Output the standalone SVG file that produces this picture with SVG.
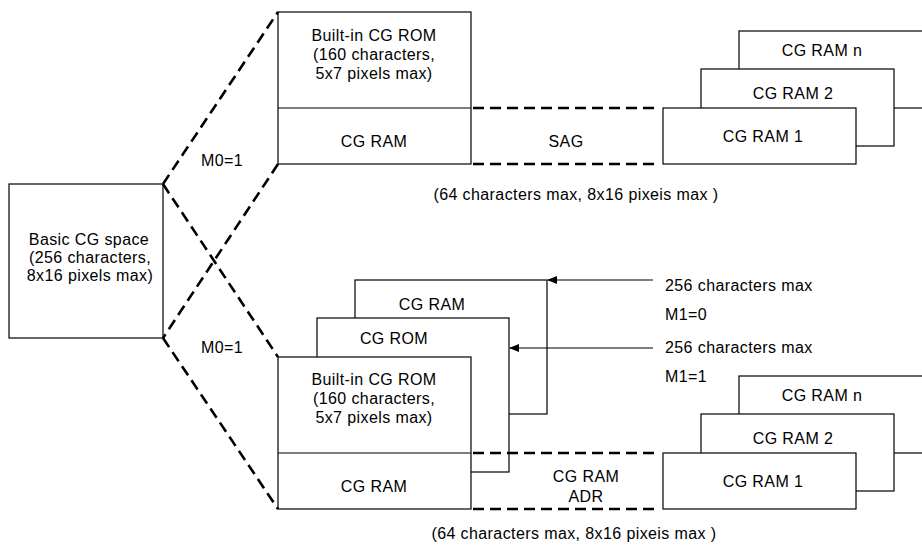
<svg xmlns="http://www.w3.org/2000/svg" width="922" height="548" viewBox="0 0 922 548">
<style>
.box{fill:#fff;stroke:#000;stroke-width:1.2}
.ln{fill:none;stroke:#000;stroke-width:1.2}
.dash{fill:none;stroke:#000;stroke-width:2.6;stroke-dasharray:11 6}
text{font-family:"Liberation Sans",Arial,sans-serif;font-size:16px;fill:#000;letter-spacing:0.4px}
.c{text-anchor:middle}
</style>
<defs>
<marker id="ah" markerWidth="10" markerHeight="8" refX="9" refY="4" orient="auto" markerUnits="userSpaceOnUse"><path d="M0,0 L10,4 L0,8 Z" fill="#000"/></marker>
</defs>
<rect width="922" height="548" fill="#fff"/>

<g id="basic-cg-space">
<rect class="box" x="9" y="184" width="154" height="154"/>
<text class="c" x="89" y="245">Basic CG space</text>
<text class="c" x="90" y="263">(256 characters,</text>
<text class="c" x="90" y="281">8x16 pixels max)</text>
</g>

<g id="top-rom-ram">
<rect class="box" x="278" y="12" width="193" height="152"/>
<line class="ln" x1="278" y1="108" x2="471" y2="108"/>
<text class="c" x="374" y="41">Built-in CG ROM</text>
<text class="c" x="374" y="60">(160 characters,</text>
<text class="c" x="374" y="79">5x7 pixels max)</text>
<text class="c" x="374" y="147">CG RAM</text>
</g>

<g id="top-sag">
<text class="c" x="566" y="147">SAG</text>
</g>

<g id="top-cgram-n">
<rect class="box" x="739" y="31" width="200" height="77"/>
<text class="c" x="822" y="56">CG RAM n</text>
</g>
<g id="top-cgram-2">
<rect class="box" x="701" y="69" width="193" height="77"/>
<text class="c" x="793" y="99">CG RAM 2</text>
</g>
<g id="top-cgram-1">
<rect class="box" x="663" y="108" width="193" height="56"/>
<text class="c" x="763" y="142">CG RAM 1</text>
</g>
<g id="top-caption">
<text class="c" x="576" y="200">(64 characters max, 8x16 pixeis max )</text>
</g>

<g id="low-cgram-back">
<rect class="box" x="355" y="280" width="192" height="134"/>
<text class="c" x="432" y="310">CG RAM</text>
</g>
<g id="low-cgrom">
<rect class="box" x="317" y="318" width="192" height="154"/>
<text class="c" x="394" y="344">CG ROM</text>
</g>
<g id="low-rom-ram">
<rect class="box" x="278" y="357" width="193" height="152"/>
<line class="ln" x1="278" y1="453" x2="471" y2="453"/>
<text class="c" x="374" y="385">Built-in CG ROM</text>
<text class="c" x="374" y="404">(160 characters,</text>
<text class="c" x="374" y="423">5x7 pixels max)</text>
<text class="c" x="374" y="492">CG RAM</text>
</g>

<g id="low-adr">
<text class="c" x="586" y="482">CG RAM</text>
<text class="c" x="586" y="502">ADR</text>
</g>

<g id="low-cgram-n">
<rect class="box" x="739" y="376" width="200" height="77"/>
<text class="c" x="822" y="401">CG RAM n</text>
</g>
<g id="low-cgram-2">
<rect class="box" x="701" y="414" width="193" height="77"/>
<text class="c" x="793" y="444">CG RAM 2</text>
</g>
<g id="low-cgram-1">
<rect class="box" x="663" y="453" width="193" height="56"/>
<text class="c" x="763" y="487">CG RAM 1</text>
</g>
<g id="low-caption">
<text class="c" x="574" y="539">(64 characters max, 8x16 pixeis max )</text>
</g>

<g id="labels">
<text x="665" y="291">256 characters max</text>
<text x="665" y="320">M1=0</text>
<text x="665" y="353">256 characters max</text>
<text x="665" y="382">M1=1</text>
<text class="c" x="222" y="166">M0=1</text>
<text class="c" x="222" y="353">M0=1</text>
</g>

<g id="connectors">
<line class="dash" x1="163" y1="184" x2="278" y2="12"/>
<line class="dash" x1="163" y1="184" x2="278" y2="357"/>
<line class="dash" x1="278" y1="164" x2="163" y2="338"/>
<line class="dash" x1="163" y1="338" x2="278" y2="509"/>
<line class="dash" x1="473" y1="108" x2="657" y2="108"/>
<line class="dash" x1="473" y1="164" x2="657" y2="164"/>
<line class="dash" x1="473" y1="453" x2="657" y2="453"/>
<line class="dash" x1="473" y1="509" x2="657" y2="509"/>
<line class="ln" x1="653" y1="280" x2="548" y2="280" marker-end="url(#ah)"/>
<line class="ln" x1="653" y1="348" x2="510" y2="348" marker-end="url(#ah)"/>
</g>
</svg>
